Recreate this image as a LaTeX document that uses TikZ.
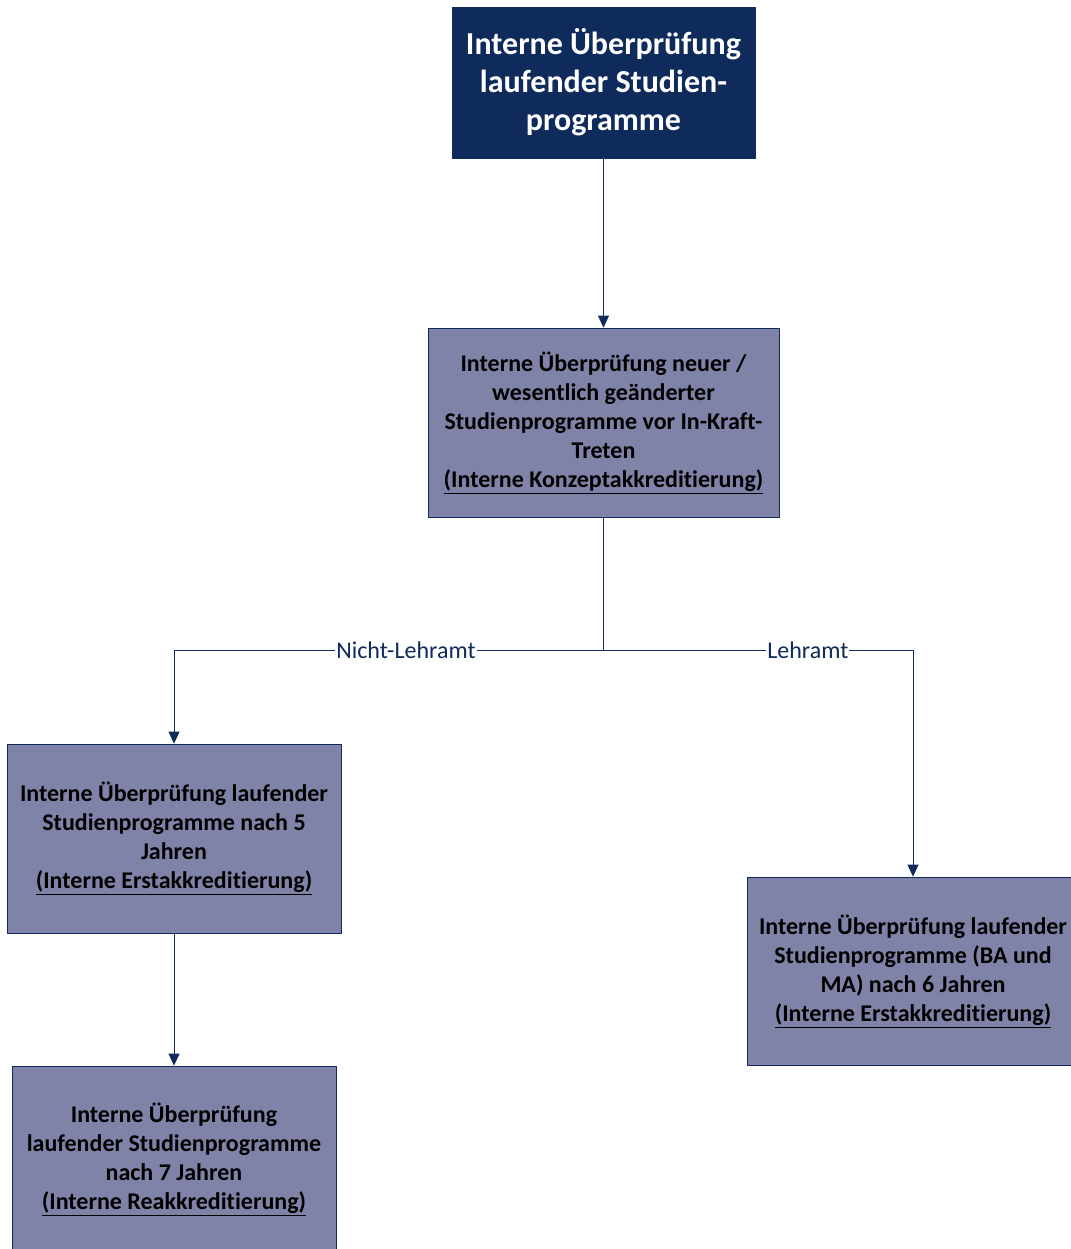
\documentclass[tikz,border=0pt]{standalone}
\usepackage{fontspec}
\setmainfont{Carlito}[Ligatures=NoCommon]
\usetikzlibrary{arrows.meta,positioning}
\definecolor{navy}{HTML}{0E2B5C}
\definecolor{lila}{HTML}{8083A8}
\begin{document}
\begin{tikzpicture}[x=1pt, y=-1pt, line join=round, >={Triangle[length=12pt,width=11pt]},
	line width=0.8pt, draw=navy, font=\bfseries\fontsize{24}{29}\selectfont,
	kasten/.style={draw=navy, fill=lila, align=center, inner sep=0pt},
	weg/.style={navy, line width=0.8pt},
	zweig/.style={fill=white, text=navy, inner sep=1pt, font=\mdseries\fontsize{24}{28}\selectfont}]
	\useasboundingbox (0,0) rectangle (1070,1249);
	\node[kasten, fill=navy, text=white, minimum width=303pt, minimum height=151pt,
		font=\bfseries\fontsize{32}{38}\selectfont] (start) at (603.5,82.5)
		{Interne Überprüfung\\laufender Studien-\\programme};
	\node[kasten, minimum width=351pt, minimum height=189pt] (konzept) at (603.5,422.5)
		{Interne Überprüfung neuer /\\wesentlich geänderter\\Studienprogramme vor In-Kraft-\\Treten\\\underline{(Interne Konzeptakkreditierung)}};
	\node[kasten, minimum width=334pt, minimum height=189pt] (fuenf) at (174,838.5)
		{Interne Überprüfung laufender\\Studienprogramme nach 5\\Jahren\\\underline{(Interne Erstakkreditierung)}};
	\node[kasten, minimum width=332pt, minimum height=188pt] (sechs) at (913,971)
		{Interne Überprüfung laufender\\Studienprogramme (BA und\\MA) nach 6 Jahren\\\underline{(Interne Erstakkreditierung)}};
	\node[kasten, minimum width=324pt, minimum height=187pt] (sieben) at (174,1159.5)
		{Interne Überprüfung\\laufender Studienprogramme\\nach 7 Jahren\\\underline{(Interne Reakkreditierung)}};
	\coordinate (teil) at (603.5,650);
	% Verbindungen
	\draw[weg,->] (start) -- (konzept);
	\draw[weg] (konzept) -- (teil);
	\draw[weg,->] (teil) -| node[zweig, pos=0.23]{Nicht-Lehramt} (fuenf);
	\draw[weg,->] (teil) -| node[zweig, pos=0.33]{Lehramt} (sechs);
	\draw[weg,->] (fuenf) -- (sieben);
\end{tikzpicture}
\end{document}
